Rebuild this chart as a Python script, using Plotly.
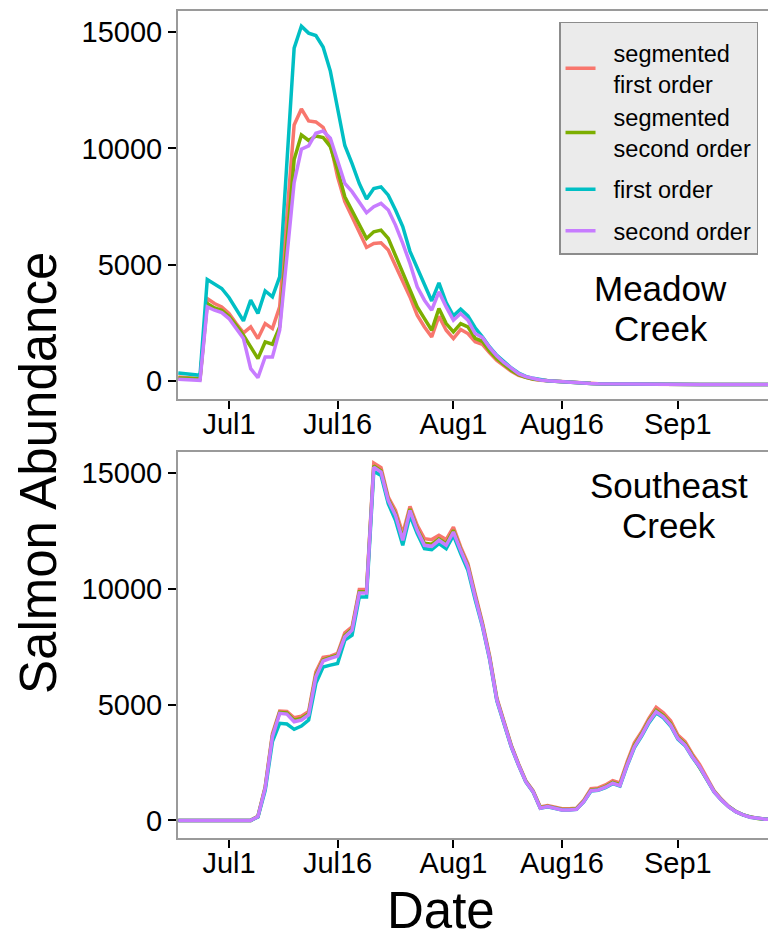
import pandas as pd
import plotly.graph_objects as go

# Daily dates of the run
dates = pd.date_range("2014-06-24", periods=83, freq="D")

NB = "\u00a0\u00a0"
series_names = [NB + "segmented<br>" + NB + "first order", NB + "segmented<br>" + NB + "second order",
                NB + "first order", NB + "second order"]
series_colors = ["#F8766D", "#7CAE00", "#00BFC4", "#C77CFF"]
# the two segmented fits share one legend block
series_groups = ["segmented", "segmented", "first", "second"]

tail_meadow = [25, 0, -25, -50, -70, -85, -95, -105, -110, -115, -120,
               -125, -125, -130, -130, -130, -135, -135, -135, -135, -140, -140,
               -140, -140, -140, -140, -140, -140, -140, -140, -140, -140]

# Meadow Creek estimates
meadow_seg1 = [185, 172, 143, 115, 3555, 3340, 3196, 2911, 2480, 2078, 2336, 1835, 2480, 2265, 3196,
               7224, 11008, 11696, 11180, 11137, 10900, 10221, 8785, 7710, 7065, 6351, 5749, 5921, 5947,
               5633, 4988, 4343, 3625, 2838, 2336, 1906, 2795, 2193, 1835, 2222, 2050, 1700, 1590, 1220,
               900, 660, 430, 260, 160, 90, 45] + tail_meadow
meadow_seg2 = [143, 140, 115, 115, 3340, 3153, 3053, 2795, 2408, 1978, 1480, 975, 1691, 1591, 2336,
               5930, 9520, 10578, 10340, 10535, 10470, 10077, 9073, 7926, 7353, 6780, 6135, 6421, 6493,
               6135, 5418, 4700, 3913, 3196, 2695, 2193, 3125, 2480, 2121, 2480, 2336, 1850, 1720, 1300,
               975, 730, 475, 290, 170, 100, 45] + tail_meadow
meadow_ord1 = [357, 331, 301, 258, 4372, 4171, 3986, 3599, 3096, 2593, 3483, 2911, 3883, 3625, 4485,
               9645, 14306, 15250, 14950, 14846, 14350, 13320, 11690, 10125, 9345, 8490, 7825, 8280, 8350,
               7995, 7355, 6645, 5580, 4870, 4090, 3450, 4230, 3380, 2810, 3095, 2810, 2300, 1906, 1476,
               1118, 831, 573, 358, 215, 129, 72] + tail_meadow
meadow_ord2 = [86, 72, 57, 43, 3196, 3053, 2953, 2695, 2265, 1835, 545, 158, 1046, 1046, 2193,
               5418, 8530, 9963, 10110, 10651, 10750, 10436, 9503, 8500, 8142, 7710, 7238, 7496, 7640,
               7353, 6708, 5921, 5060, 4056, 3483, 3053, 3841, 3196, 2623, 2911, 2623, 2050, 1880, 1450,
               1090, 800, 545, 330, 200, 115, 55] + tail_meadow

# Southeast Creek estimates
lead_zero = [0] * 11
southeast_seg1 = lead_zero + [
    180, 1450, 3750, 4720, 4700, 4431, 4500, 4700, 6400, 7034, 7090, 7206, 8094, 8353, 9965, 9965,
    15421, 15223, 13956, 13383, 12378, 13555, 12736, 12163, 12120, 12305, 12120, 12663, 11803, 11085,
    9792, 8550, 7100, 5280, 4260, 3240, 2440, 1710, 1280, 580, 640, 570, 500, 500, 530, 870, 1370,
    1400, 1530, 1720, 1620, 2534, 3353, 3827, 4405, 4879, 4646, 4301, 3685, 3396, 2866, 2420, 1820,
    1290, 920, 615, 390, 245, 142, 80, 53, 40]
southeast_seg2 = lead_zero + [
    170, 1410, 3650, 4660, 4640, 4320, 4400, 4600, 6270, 6930, 7030, 7130, 7980, 8260, 9870, 9870,
    15300, 15090, 13860, 13230, 12170, 13440, 12580, 11960, 11920, 12150, 11950, 12520, 11700, 10990,
    9690, 8470, 7030, 5220, 4210, 3200, 2405, 1685, 1250, 545, 610, 540, 470, 470, 500, 830, 1310,
    1340, 1460, 1640, 1540, 2440, 3240, 3740, 4310, 4750, 4530, 4170, 3590, 3300, 2790, 2350, 1770,
    1255, 895, 600, 382, 239, 139, 78, 52, 40]
southeast_ord1 = lead_zero + [
    150, 1300, 3396, 4189, 4160, 3931, 4073, 4332, 5913, 6620, 6700, 6775, 7780, 7995, 9646, 9646,
    15076, 14891, 13671, 12952, 11875, 13167, 12378, 11732, 11689, 11947, 11732, 12305, 11516, 10797,
    9534, 8380, 6950, 5160, 4160, 3160, 2375, 1660, 1230, 520, 585, 515, 445, 445, 475, 795, 1265,
    1300, 1415, 1585, 1485, 2360, 3140, 3640, 4210, 4640, 4430, 4075, 3510, 3225, 2725, 2300, 1730,
    1230, 875, 590, 375, 235, 137, 77, 51, 40]
southeast_ord2 = lead_zero + [
    164, 1388, 3612, 4620, 4590, 4258, 4332, 4547, 6198, 6880, 6991, 7090, 7922, 8211, 9818, 9818,
    15249, 15033, 13813, 13167, 12090, 13383, 12521, 11875, 11831, 12090, 11875, 12448, 11659, 10939,
    9646, 8426, 6991, 5194, 4189, 3181, 2392, 1672, 1241, 526, 595, 526, 453, 453, 483, 810, 1284,
    1315, 1431, 1603, 1500, 2392, 3181, 3685, 4258, 4689, 4474, 4116, 3543, 3254, 2750, 2319, 1746,
    1241, 884, 595, 379, 237, 138, 78, 52, 40]

tick_dates = ["2014-07-01", "2014-07-16", "2014-08-01", "2014-08-16", "2014-09-01"]
tick_text = ["Jul1", "Jul16", "Aug1", "Aug16", "Sep1"]
y_ticks = [0, 5000, 10000, 15000]
y_tick_text = ["0", "5000", "10000", "15000"]

FONT = "Liberation Sans, Arial, sans-serif"

fig = go.Figure()

meadow = [meadow_seg1, meadow_seg2, meadow_ord1, meadow_ord2]
southeast = [southeast_seg1, southeast_seg2, southeast_ord1, southeast_ord2]

for name, color, grp, vals in zip(series_names, series_colors, series_groups, meadow):
    fig.add_trace(go.Scatter(x=dates, y=vals, mode="lines", name=name,
                             line=dict(color=color, width=3.5), legendgroup=grp,
                             xaxis="x2", yaxis="y2", showlegend=True))
for name, color, grp, vals in zip(series_names, series_colors, series_groups, southeast):
    fig.add_trace(go.Scatter(x=dates, y=vals, mode="lines", name=name,
                             line=dict(color=color, width=3.5), legendgroup=grp,
                             xaxis="x", yaxis="y", showlegend=False))

x_style = dict(type="date", range=["2014-06-23 23:00", "2014-09-13 10:48"],
               tickmode="array", tickvals=tick_dates, ticktext=tick_text,
               showline=True, linecolor="#9a9a9a", linewidth=2, mirror=True,
               ticks="outside", ticklen=8, tickwidth=2, tickcolor="black",
               ticklabelstandoff=-10,
               tickfont=dict(size=29, color="black", family=FONT),
               showgrid=False, zeroline=False)
y_style = dict(range=[-760, 15900], tickmode="array", tickvals=y_ticks, ticktext=y_tick_text,
               showline=True, linecolor="#9a9a9a", linewidth=2, mirror=False,
               ticks="outside", ticklen=8, tickwidth=2, tickcolor="black",
               tickfont=dict(size=29, color="black", family=FONT),
               showgrid=False, zeroline=False)

fig.update_layout(
    width=768, height=936,
    margin=dict(l=178, r=0, t=11, b=98, autoexpand=False),
    paper_bgcolor="white", plot_bgcolor="white",
    font=dict(family=FONT, color="black"),
    xaxis=dict(domain=[0, 1], anchor="y", **x_style),
    yaxis=dict(domain=[0, 0.4667], anchor="x", **y_style),
    xaxis2=dict(domain=[0, 1], anchor="y2", **x_style),
    yaxis2=dict(domain=[0.5308, 1], anchor="x2", **y_style),
    legend=dict(x=0.6458, y=0.9867, xanchor="left", yanchor="top",
                bgcolor="#EBEBEB", bordercolor="#8c8c8c", borderwidth=1.5,
                font=dict(size=23.5, family=FONT, color="black"),
                title=dict(text="\u00a0", font=dict(size=6)),
                itemwidth=30, tracegroupgap=8),
    showlegend=True,
)

annotations = [
    dict(text="Meadow", x=0.8186, y=(838 - 288) / 827),
    dict(text="Creek", x=0.8186, y=(838 - 328) / 827),
    dict(text="Southeast", x=0.8322, y=(838 - 485) / 827),
    dict(text="Creek", x=0.8322, y=(838 - 525) / 827),
]
for a in annotations:
    fig.add_annotation(xref="paper", yref="paper", showarrow=False,
                       xanchor="center", yanchor="middle",
                       font=dict(size=35, family=FONT, color="black"), **a)

fig.add_annotation(text="Date", xref="paper", yref="paper", x=(441 - 178) / 590,
                   y=(838 - 910) / 827, showarrow=False, xanchor="center", yanchor="middle",
                   font=dict(size=51, family=FONT, color="black"))
fig.add_annotation(text="Salmon Abundance", xref="paper", yref="paper", x=(38 - 178) / 590,
                   y=(838 - 473) / 827, showarrow=False, xanchor="center", yanchor="middle",
                   textangle=-90, font=dict(size=51, family=FONT, color="black"))

fig.write_html("out.html")
